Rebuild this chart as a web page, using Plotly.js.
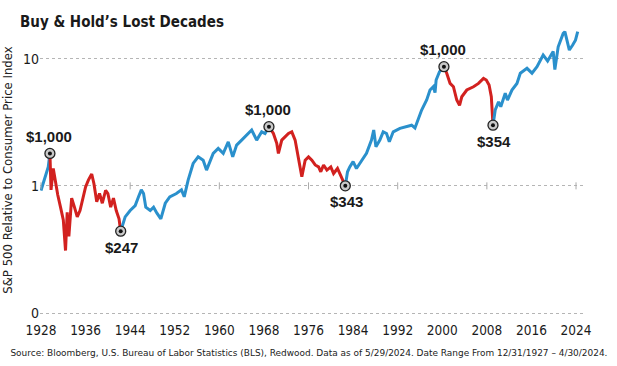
<!DOCTYPE html>
<html><head><meta charset="utf-8">
<script src="https://cdn.plot.ly/plotly-3.0.1.min.js"></script>
<style>html,body{margin:0;padding:0;background:#fff}#chart{width:617px;height:366px}</style>
</head><body><div id="chart"></div>
<script>
// S&P 500 relative to CPI
const years = [1928.0,1928.3,1928.6,1929.0,1929.3,1929.6,1929.8,1930.2,1930.6,1931.0,1931.5,1932.0,1932.4,1932.7,1933.0,1933.5,1934.0,1934.5,1935.0,1935.5,1936.0,1936.5,1937.1,1937.5,1938.0,1938.5,1939.0,1939.6,1940.0,1940.5,1941.0,1941.5,1942.0,1942.3,
1943.1,1944.0,1944.9,1945.5,1946.0,1946.4,1946.8,1947.6,1948.2,1948.8,1949.5,1950.3,1951.1,1952.3,1953.2,1953.7,1954.4,1955.3,1956.2,1957.1,1957.7,1958.9,1959.8,1960.7,1961.6,1962.4,1963.1,1964.0,1965.2,1965.8,1966.7,1967.6,1968.2,1968.9,
1969.7,1970.3,1970.6,1971.2,1971.8,1972.4,1973.0,1973.6,1974.2,1974.8,1975.4,1976.0,1976.6,1977.2,1977.8,1978.2,1978.7,1979.3,1980.0,1980.5,1981.2,1981.8,1982.6,
1983.0,1983.4,1984.0,1984.6,1985.5,1986.4,1987.3,1987.7,1988.1,1988.8,1989.4,1990.0,1990.5,1991.2,1992.4,1993.6,1994.5,1995.1,1995.7,1996.3,1997.2,1997.8,1998.4,1998.7,1998.9,1999.5,2000.3,
2000.8,2001.4,2002.0,2002.6,2003.1,2003.5,2004.4,2005.6,2006.5,2007.4,2007.9,2008.4,2008.8,2009.1,
2009.5,2010.1,2010.5,2011.3,2011.7,2012.5,2013.4,2014.0,2015.2,2016.1,2017.0,2018.1,2018.9,2019.9,2020.2,2020.8,2021.7,2022.0,2022.8,2023.4,2023.9,2024.3];
const values = [0.92,1.02,1.14,1.25,1.41,1.80,0.93,1.37,1.04,0.85,0.68,0.54,0.31,0.62,0.40,0.80,0.68,0.57,0.64,0.80,0.98,1.11,1.24,1.04,0.75,0.87,0.73,0.92,0.87,0.68,0.80,0.64,0.55,0.44,
0.57,0.64,0.70,0.82,0.93,0.87,0.68,0.64,0.68,0.61,0.55,0.73,0.82,0.87,0.93,0.82,1.11,1.50,1.69,1.59,1.33,1.80,1.97,1.80,2.22,1.69,2.09,2.29,2.58,2.75,2.29,2.66,2.58,2.92,
2.58,2.16,1.80,2.29,2.43,2.58,2.66,2.29,1.64,1.18,1.59,1.69,1.59,1.46,1.41,1.29,1.46,1.33,1.41,1.25,1.37,1.21,1.00,
1.29,1.41,1.55,1.37,1.59,1.80,2.29,2.75,2.03,2.29,2.66,2.58,2.22,2.66,2.83,2.92,3.00,2.85,3.39,3.95,4.73,5.67,6.02,5.40,6.80,7.90,8.65,
7.69,6.39,6.02,4.73,4.30,5.02,5.67,6.02,6.39,7.00,6.80,6.20,5.02,3.00,
3.95,4.58,4.19,5.34,4.73,5.67,6.39,7.69,8.40,7.69,8.65,10.7,9.6,11.4,8.2,12.4,15.8,16.3,11.7,12.8,14.0,16.3];

// Lost decades: peak -> trough
const lostStart = [1929.6, 1968.9, 2000.3];
const lostEnd = [1942.3, 1982.6, 2009.1];
const peakLabels = ['$1,000', '$1,000', '$1,000'];
const troughLabels = ['$247', '$343', '$354'];

const xTickYears = [1928,1936,1944,1952,1960,1968,1976,1984,1992,2000,2008,2016,2024];
const yTickVals = [0.1, 1, 10];
const yTickText = ['0', '1', '10'];

const BLUE = '#2a90cc', RED = '#d2211f';
const NARROW = '"DejaVu Sans Condensed", "Liberation Sans", Arial, sans-serif';

const bounds = [years[0]];
lostStart.forEach((s, i) => { bounds.push(s, lostEnd[i]); });
bounds.push(years[years.length - 1]);

const traces = [];
for (let i = 0; i < bounds.length - 1; i++) {
  const xs = [], ys = [];
  years.forEach((y, k) => { if (y >= bounds[i] && y <= bounds[i + 1]) { xs.push(y); ys.push(values[k]); } });
  traces.push({x: xs, y: ys, type: 'scatter', mode: 'lines',
    line: {color: i % 2 === 1 ? RED : BLUE, width: 3}, hoverinfo: 'skip'});
}

// faint tick marks on the 1 gridline
const minorYears = xTickYears.filter((_, i) => i % 2 === 0);
traces.push({x: minorYears, y: minorYears.map(() => 1), type: 'scatter', mode: 'markers',
  marker: {symbol: 'line-ns-open', size: 5, color: '#aaa', line: {width: 1, color: '#aaa'}}, hoverinfo: 'skip'});

const valAt = yr => values[years.indexOf(yr)];
const markYears = lostStart.concat(lostEnd);
const markVals = markYears.map(valAt);
traces.push({x: markYears, y: markVals, type: 'scatter', mode: 'markers',
  marker: {size: 10, color: '#c9c9c9', line: {width: 1.3, color: '#222'}}, hoverinfo: 'skip'});
traces.push({x: markYears, y: markVals, type: 'scatter', mode: 'markers',
  marker: {size: 4, color: '#111'}, hoverinfo: 'skip'});

const annFont = {family: 'Liberation Sans, Arial, sans-serif', size: 15, color: '#1a1a1a', weight: 'bold'};
const annotations = [];
lostStart.forEach((yr, i) => annotations.push({x: yr, y: Math.log10(valAt(yr)), text: peakLabels[i],
  showarrow: false, yshift: 17, xshift: -1, font: annFont}));
lostEnd.forEach((yr, i) => annotations.push({x: yr, y: Math.log10(valAt(yr)), text: troughLabels[i],
  showarrow: false, yshift: -16, xshift: 1, font: annFont}));
const SOURCE = 'Source: Bloomberg, U.S. Bureau of Labor Statistics (BLS), Redwood. Data as of 5/29/2024. Date Range From 12/31/1927 – 4/30/2024.';
annotations.push({xref: 'paper', yref: 'paper', x: (308.5 - 40) / 545, y: -0.131, xanchor: 'center', yanchor: 'middle',
  showarrow: false, text: SOURCE, font: {family: NARROW, size: 9.3, color: '#222'}});

const layout = {
  width: 617, height: 366,
  margin: {l: 40, r: 32, t: 25, b: 51},
  paper_bgcolor: '#fff', plot_bgcolor: '#fff',
  showlegend: false, hovermode: false,
  title: {text: 'Buy & Hold’s Lost Decades', x: 20 / 617, xanchor: 'left', xref: 'container',
    y: 1 - 22 / 366, yanchor: 'middle', yref: 'container',
    font: {family: NARROW, size: 15, color: '#1a1a1a', weight: 'bold'}},
  xaxis: {range: [1927.82, 2025.61], tickvals: xTickYears, ticktext: xTickYears.map(String),
    showgrid: false, zeroline: false, showline: false, ticks: '', ticklabelstandoff: 5,
    tickfont: {family: NARROW, size: 13.5, color: '#1a1a1a'}},
  yaxis: {type: 'log', range: [-1.0157, 1.265], tickvals: yTickVals, ticktext: yTickText,
    showgrid: true, gridcolor: '#b5b5b5', griddash: 'dot', gridwidth: 1,
    zeroline: false, showline: false, ticks: '',
    tickfont: {family: NARROW, size: 14, color: '#1a1a1a'},
    title: {text: 'S&P 500 Relative to Consumer Price Index', standoff: 8,
      font: {family: NARROW, size: 13, color: '#222'}}},
  annotations: annotations
};

Plotly.newPlot('chart', traces, layout, {displayModeBar: false, staticPlot: true}).then(gd => {
  // stretch the long source line to the reference's width
  gd.querySelectorAll('.annotation-text').forEach(t => {
    if (t.textContent === SOURCE) {
      t.setAttribute('textLength', '597');
      t.setAttribute('lengthAdjust', 'spacingAndGlyphs');
    }
  });
});
</script></body></html>
